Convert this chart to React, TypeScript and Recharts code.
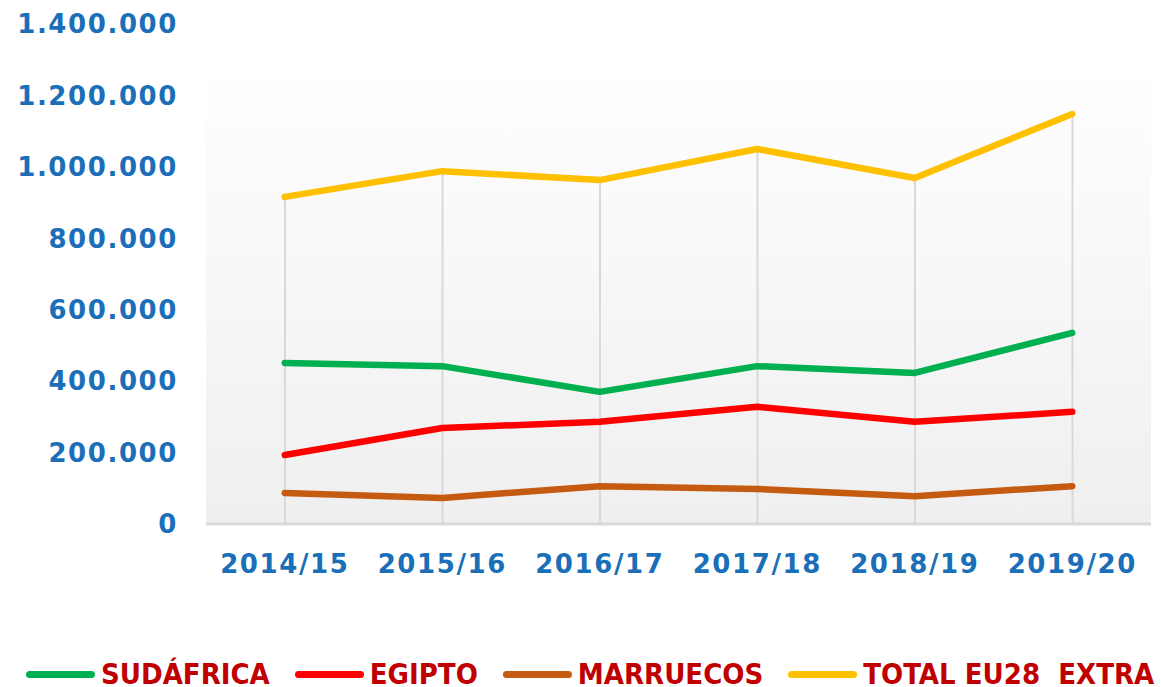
import React from 'react'
import {
  ComposedChart,
  Line,
  Bar,
  XAxis,
  YAxis,
  ReferenceArea,
  Legend,
} from 'recharts'

const campaigns = ['2014/15', '2015/16', '2016/17', '2017/18', '2018/19', '2019/20']
const sudafrica = [451000, 442000, 370000, 442000, 423000, 535000]
const egipto = [193000, 269000, 286000, 328000, 286000, 314000]
const marruecos = [87000, 73000, 106000, 98000, 78000, 106000]
const totalEu28 = [916000, 988000, 963000, 1050000, 969000, 1148000]
const yTicks = [0, 200000, 400000, 600000, 800000, 1000000, 1200000, 1400000]

const series = [
  { key: 'sudafrica', name: 'SUDÁFRICA', color: '#00b050' },
  { key: 'egipto', name: 'EGIPTO', color: '#ff0000' },
  { key: 'marruecos', name: 'MARRUECOS', color: '#c55a11' },
  { key: 'total', name: 'TOTAL EU28  EXTRA', color: '#ffc000' },
]

const data = campaigns.map((c, i) => ({
  campaign: c,
  sudafrica: sudafrica[i],
  egipto: egipto[i],
  marruecos: marruecos[i],
  total: totalEu28[i],
}))

const fmt = (v: number) => (v === 0 ? '0' : v.toLocaleString('de-DE'))

const tickFont = {
  fontFamily: '"DejaVu Sans", sans-serif',
  fontWeight: 700,
  fontSize: 26,
  letterSpacing: 1.6,
  fill: '#1a6fb8',
}

const renderLegend = () => (
  <div style={{ display: 'flex', alignItems: 'center', gap: 25, paddingLeft: 26, height: 34 }}>
    {series.map((s) => (
      <div key={s.key} style={{ display: 'flex', alignItems: 'center', flexShrink: 0 }}>
        <div style={{ width: 69, height: 7, borderRadius: 4, background: s.color, marginRight: 6, flexShrink: 0 }} />
        <span
          style={{
            fontFamily: '"DejaVu Sans Condensed", "DejaVu Sans", sans-serif',
            fontWeight: 700,
            fontSize: 29,
            color: '#c00000',
            whiteSpace: 'pre',
            lineHeight: '34px',
            flexShrink: 0,
          }}
        >
          {s.name}
        </span>
      </div>
    ))}
  </div>
)

export default function App() {
  return (
    <div style={{ background: '#fff', width: 1161, height: 687 }}>
      <style>{'body{margin:0}'}</style>
      <ComposedChart
        width={1161}
        height={687}
        data={data}
        margin={{ top: 24, right: 10, bottom: 103, left: 10 }}
      >
        <defs>
          <linearGradient id="plotBg" x1="0" y1="0" x2="0" y2="1">
            <stop offset="0%" stopColor="#fefefe" />
            <stop offset="100%" stopColor="#efefef" />
          </linearGradient>
        </defs>
        <ReferenceArea y1={0} y2={1240000} fill="url(#plotBg)" fillOpacity={1} stroke="none" />
        <XAxis
          dataKey="campaign"
          axisLine={{ stroke: '#d9d9d9', strokeWidth: 3 }}
          tickLine={false}
          tickSize={0}
          tickMargin={31}
          height={60}
          tick={tickFont}
          interval={0}
        />
        <YAxis
          domain={[0, 1400000]}
          ticks={yTicks}
          tickFormatter={fmt}
          axisLine={false}
          tickLine={false}
          tickSize={0}
          tickMargin={28}
          width={196}
          tick={tickFont}
        />
        <Bar
          dataKey="total"
          barSize={2}
          fill="#d9d9d9"
          legendType="none"
          isAnimationActive={false}
        />
        {series.map((s) => (
          <Line
            key={s.key}
            dataKey={s.key}
            name={s.name}
            stroke={s.color}
            strokeWidth={6.5}
            strokeLinecap="round"
            strokeLinejoin="round"
            dot={false}
            activeDot={false}
            isAnimationActive={false}
          />
        ))}
        <Legend
          layout="horizontal"
          verticalAlign="middle"
          align="center"
          content={renderLegend}
          wrapperStyle={{ left: 0, top: 657, width: 1161, height: 34 }}
        />
      </ComposedChart>
    </div>
  )
}
